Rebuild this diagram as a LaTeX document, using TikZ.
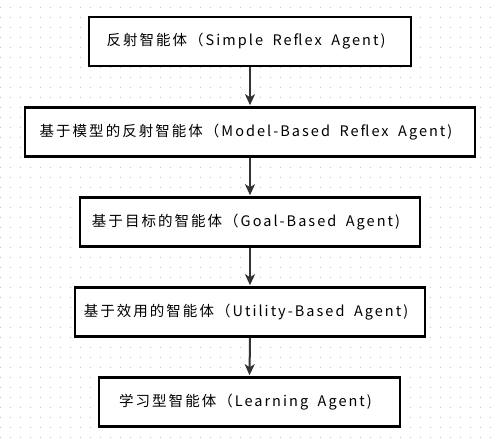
\documentclass[tikz,border=0pt]{standalone}
\usepackage{fontspec}
\usetikzlibrary{arrows.meta}
\newfontfamily\cjk[LetterSpace=14,WordSpace=1.8]{Noto Sans CJK SC}
\definecolor{dotgray}{HTML}{C4C4C4}
\definecolor{arrowgray}{HTML}{333333}
\tikzset{
  agentbox/.style={draw=black, line width=2.6pt, fill=white, minimum height=49pt,
    inner sep=0pt, font=\cjk\fontsize{14.5pt}{16pt}\selectfont, text=black},
  flowarrow/.style={draw=arrowgray, line width=2pt,
    -{Stealth[length=11pt,width=10pt,inset=3pt]}, shorten >=1pt}
}
\newcommand{\lft}[1]{#1\hspace*{8pt}}
\begin{document}
\begin{tikzpicture}[x=1pt,y=-1pt]
\fill[white] (0,0) rectangle (500,443);
\useasboundingbox (0,0) rectangle (500,443);
\foreach \i in {0,...,49}{
  \foreach \j in {0,...,43}{
    \fill[dotgray] (\i*10+0.5,\j*10+7.5) circle (0.6pt);
  }
}
\node[agentbox, minimum width=322pt] (a) at (250,41.5) {\lft{反射智能体（Simple Reflex Agent)}};
\node[agentbox, minimum width=450pt] (b) at (250,132) {\lft{基于模型的反射智能体（Model-Based Reflex Agent)}};
\node[agentbox, minimum width=340pt] (c) at (250,222) {\lft{基于目标的智能体（Goal-Based Agent)}};
\node[agentbox, minimum width=350pt] (d) at (250,312) {\lft{基于效用的智能体（Utility-Based Agent)}};
\node[agentbox, minimum width=301pt] (e) at (249.5,402) {\lft{学习型智能体（Learning Agent)}};
\draw[flowarrow] (a.south) -- (b.north);
\draw[flowarrow] (b.south) -- (c.north);
\draw[flowarrow] (c.south) -- (d.north);
\draw[flowarrow] (d.south) -- (e.north);
\end{tikzpicture}
\end{document}
